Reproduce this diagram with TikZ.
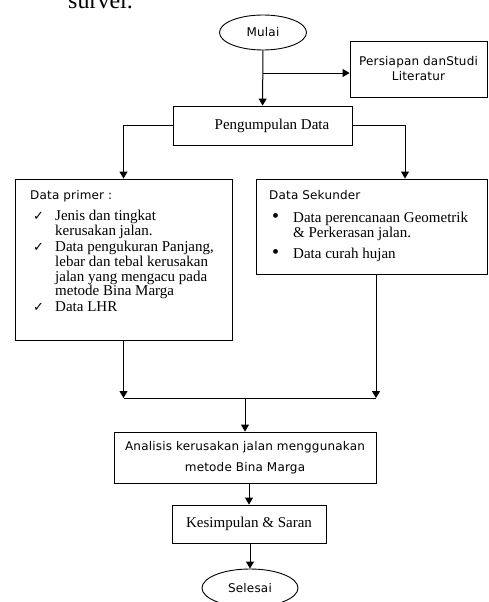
\documentclass[tikz,border=0pt]{standalone}
\usepackage{fontspec}
\setmainfont{Liberation Serif}
\newfontfamily\tahoma[LetterSpace=1.5]{DejaVu Sans}
\newfontfamily\simbol{DejaVu Sans}
\usetikzlibrary{arrows.meta,shapes.geometric,positioning}

\newcommand\serifteks{\fontsize{15}{14}\selectfont}
\newcommand\sansteks{\tahoma\fontsize{12}{15}\selectfont}
\newcommand\cek{\hspace*{3pt}{\simbol\fontsize{13}{13}\selectfont ✓}}
\newcommand\titik{\hspace*{3pt}{\fontsize{20}{14}\selectfont •}}

\tikzset{
	kotak/.style={draw, rectangle, line width=0.9pt, inner sep=0pt},
	elips/.style={draw, ellipse, line width=0.9pt, inner sep=0pt},
	panah/.style={-{Triangle[width=8pt,length=7pt]}, line width=1pt},
	garis/.style={line width=1pt}
}

\begin{document}
\begin{tikzpicture}[x=1pt, y=-1pt]
	\useasboundingbox (0,0) rectangle (488,602);
	\clip (0,0) rectangle (488,602);
	% Teks sisa di atas
		\node[anchor=base west, inner sep=0pt, font=\fontsize{24}{24}\selectfont] (survei) at (68,9) {survei.};

	% Mulai dan persiapan
		\node[elips, minimum width=87pt, minimum height=35pt, font=\sansteks] (mulai) at (263,32.5) {Mulai};
		\node[kotak, minimum width=137pt, minimum height=56pt, align=center, font=\sansteks] (persiapan) at (418.5,69) {Persiapan danStudi\\Literatur};
		\node[kotak, minimum width=179pt, minimum height=39pt, font=\serifteks] (pengumpulan) at (262.5,125.5) {\hspace*{19pt}Pengumpulan Data};
		\coordinate (cabang) at (263,73);

	% Data primer dan sekunder
		\node[kotak, minimum width=217pt, minimum height=161pt] (primer) at (123.5,259.5) {};
		\node[kotak, minimum width=231pt, minimum height=95pt] (sekunder) at (371.5,226.5) {};
		\node[anchor=north west, inner sep=0pt, font=\serifteks] (isiprimer) at (30,189) {%
			\begin{tabular}{@{}p{25pt}@{}l@{}}
				\multicolumn{2}{@{}l}{\sansteks Data primer :}\\[7pt]
				\cek & Jenis dan tingkat\\
				     & kerusakan jalan.\\[2pt]
				\cek & Data pengukuran Panjang,\\
				     & lebar dan tebal kerusakan\\
				     & jalan yang mengacu pada\\
				     & metode Bina Marga\\[2pt]
				\cek & Data LHR
			\end{tabular}};
		\node[anchor=north west, inner sep=0pt, font=\serifteks] (isisekunder) at (269,189) {%
			\begin{tabular}{@{}p{24pt}@{}l@{}}
				\multicolumn{2}{@{}l}{\sansteks Data Sekunder}\\[9pt]
				\titik & Data perencanaan Geometrik\\
				       & \& Perkerasan jalan.\\[7pt]
				\titik & Data curah hujan
			\end{tabular}};
		\coordinate (gabung) at (245,398);

	% Analisis sampai selesai
		\node[kotak, minimum width=262pt, minimum height=51pt, align=center, font=\tahoma\fontsize{12}{21}\selectfont] (analisis) at (245,457.5) {Analisis kerusakan jalan menggunakan\\metode Bina Marga};
		\node[kotak, minimum width=154pt, minimum height=38pt, font=\serifteks] (kesimpulan) at (249,524) {Kesimpulan \& Saran};
		\node[elips, minimum width=96pt, minimum height=38pt, font=\sansteks] (selesai) at (250,588) {Selesai};

	% Panah
		\draw[panah] (mulai) -- (pengumpulan);
		\draw[panah] (cabang) -- (cabang -| persiapan.west);
		\draw[panah] (pengumpulan.west) -| (primer.north);
		\draw[panah] (pengumpulan.east) -| ([xshift=33.5pt]sekunder.north);
		\draw[panah] (primer.south) -- (primer.south |- gabung);
		\draw[panah] ([xshift=4.5pt]sekunder.south) -- ([xshift=4.5pt]sekunder.south |- gabung);
		\draw[garis] (primer.south |- gabung) -- ([xshift=4.5pt]sekunder.south |- gabung);
		\draw[panah] (gabung) -- (analisis.north);
		\draw[panah] (kesimpulan.north |- analisis.south) -- (kesimpulan.north);
		\draw[panah] (kesimpulan.south -| selesai.north) -- (selesai.north);
\end{tikzpicture}
\end{document}
